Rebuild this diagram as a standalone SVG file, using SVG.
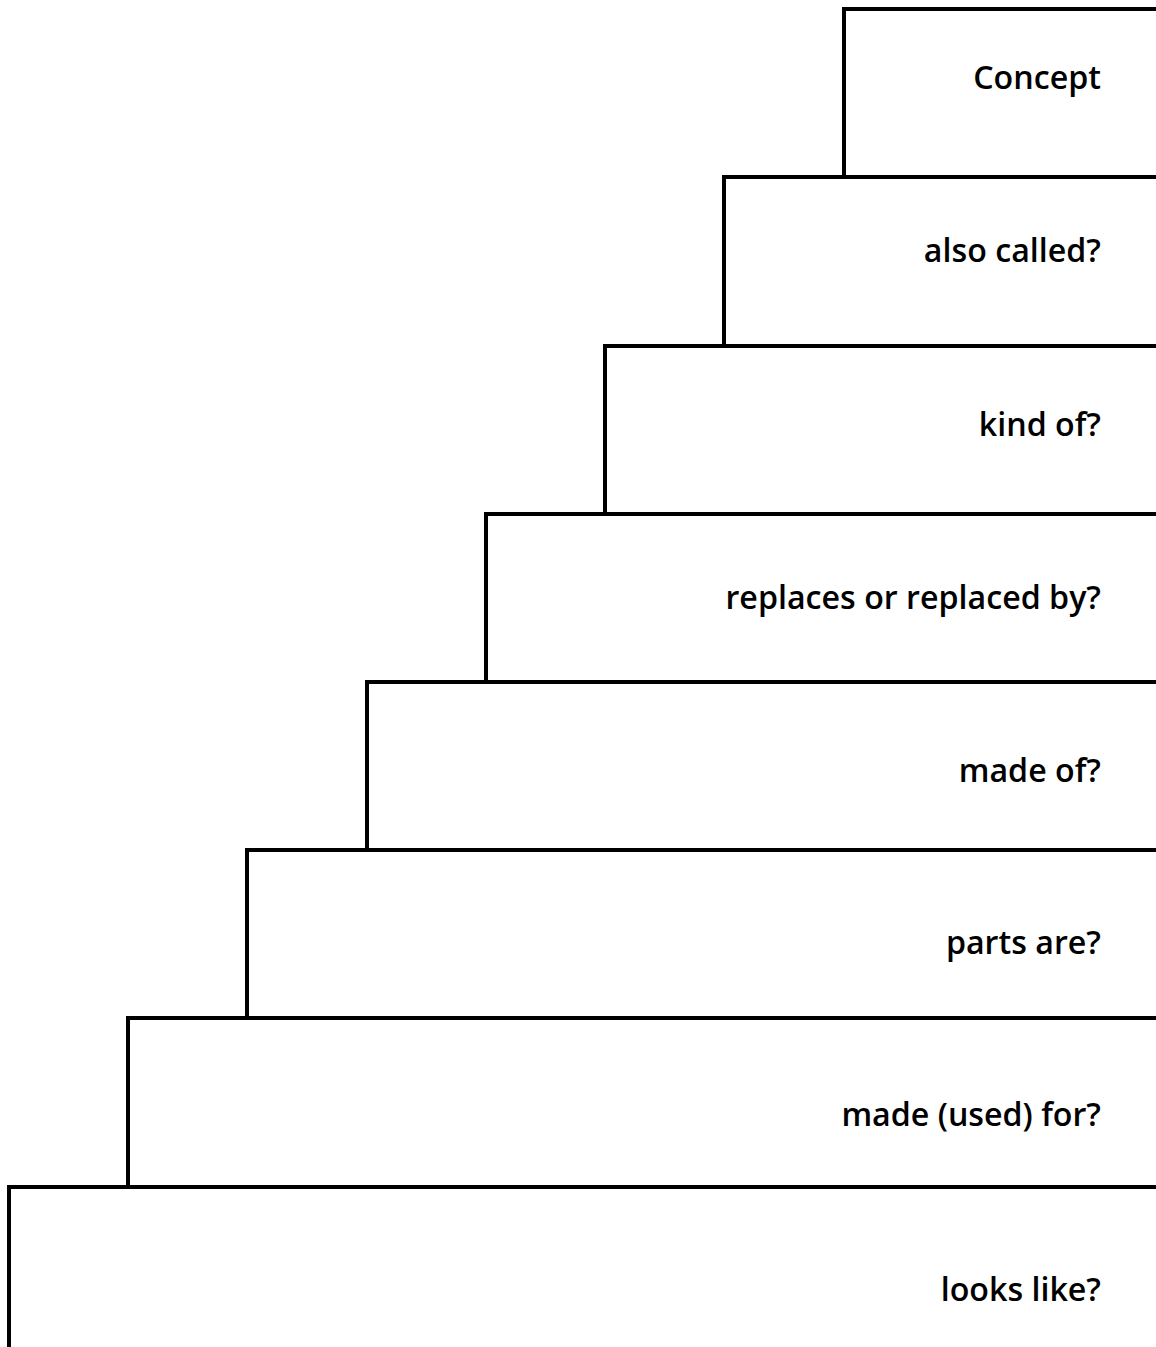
<svg xmlns="http://www.w3.org/2000/svg" width="1156" height="1347" viewBox="0 0 1156 1347">
<style>
.box{fill:#fff;stroke:#000;stroke-width:4}
.lbl{font-family:"Open Sans","Liberation Sans",sans-serif;font-size:32.2px;font-weight:600;fill:#000;text-anchor:end}
</style>
<rect width="1156" height="1347" fill="#fff"/>
<g id="n1"><rect class="box" x="844" y="9" width="320" height="168"/><text class="lbl" x="1101" y="89">Concept</text></g>
<g id="n2"><rect class="box" x="724" y="177" width="440" height="169"/><text class="lbl" x="1101" y="262">also called?</text></g>
<g id="n3"><rect class="box" x="605" y="346" width="560" height="168"/><text class="lbl" x="1101" y="436">kind of?</text></g>
<g id="n4"><rect class="box" x="486" y="514" width="680" height="168"/><text class="lbl" x="1101" y="609">replaces or replaced by?</text></g>
<g id="n5"><rect class="box" x="367" y="682" width="800" height="168"/><text class="lbl" x="1101" y="782">made of?</text></g>
<g id="n6"><rect class="box" x="247" y="850" width="920" height="168"/><text class="lbl" x="1101" y="954">parts are?</text></g>
<g id="n7"><rect class="box" x="128" y="1018" width="1040" height="169"/><text class="lbl" x="1101" y="1126">made (used) for?</text></g>
<g id="n8"><rect class="box" x="9" y="1187" width="1160" height="180"/><text class="lbl" x="1101" y="1301">looks like?</text></g>
<g id="connectors"></g>
</svg>
